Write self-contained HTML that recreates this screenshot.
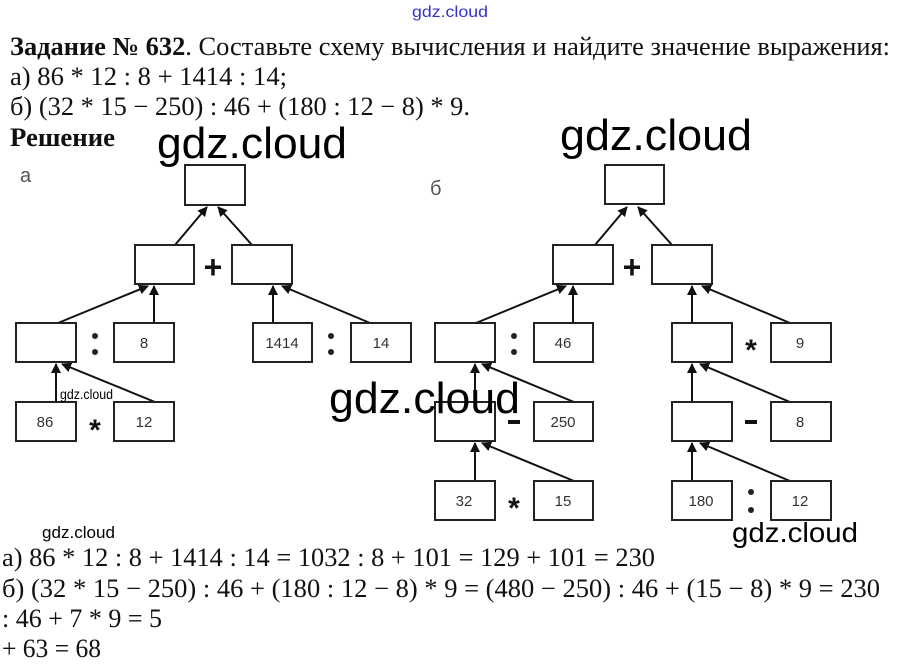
<!DOCTYPE html>
<html><head><meta charset="utf-8"><style>
html,body{margin:0;padding:0;background:#fff;}
svg{display:block;}
.s{font-family:"Liberation Serif","Noto Serif CJK SC",serif;font-size:26px;fill:#111;}
.b{font-weight:bold;}
.g{font-family:"Liberation Sans","Noto Sans CJK SC",sans-serif;fill:#000;}
.n{font-family:"Liberation Sans",sans-serif;font-size:15px;fill:#333;text-anchor:middle;}
.o{font-family:"Liberation Sans",sans-serif;font-weight:bold;fill:#111;text-anchor:middle;}
rect{fill:#fff;stroke:#222;stroke-width:2;}
line{stroke:#111;stroke-width:2;}
circle{fill:#222;}
</style></head><body>
<svg width="900" height="671" viewBox="0 0 900 671" xmlns="http://www.w3.org/2000/svg">
<defs><marker id="a" markerWidth="10" markerHeight="10" refX="9" refY="5" orient="auto" markerUnits="userSpaceOnUse"><path d="M0,0 L10,5 L0,10 z" fill="#111"/></marker></defs>
<text x="412" y="17" class="g" font-size="16" style="fill:#3333cc" textLength="76" lengthAdjust="spacingAndGlyphs">gdz.cloud</text>
<text x="10" y="55" class="s" textLength="880" lengthAdjust="spacingAndGlyphs"><tspan class="b">Задание № 632</tspan>. Составьте схему вычисления и найдите значение выражения:</text>
<text x="10" y="85" class="s" textLength="277" lengthAdjust="spacingAndGlyphs">а) 86 * 12 : 8 + 1414 : 14;</text>
<text x="10" y="115" class="s" textLength="460" lengthAdjust="spacingAndGlyphs">б) (32 * 15 − 250) : 46 + (180 : 12 − 8) * 9.</text>
<text x="10" y="146" class="s b" textLength="105" lengthAdjust="spacingAndGlyphs">Решение</text>
<text x="20" y="182" class="g" font-size="20" style="fill:#555">а</text>
<text x="430" y="195" class="g" font-size="20" style="fill:#555">б</text>
<!-- left diagram -->
<line x1="175" y1="245" x2="207" y2="207" marker-end="url(#a)"/>
<line x1="252" y1="245" x2="218" y2="207" marker-end="url(#a)"/>
<line x1="58" y1="323" x2="148" y2="286" marker-end="url(#a)"/>
<line x1="154" y1="323" x2="154" y2="286" marker-end="url(#a)"/>
<line x1="273" y1="323" x2="273" y2="286" marker-end="url(#a)"/>
<line x1="370" y1="323" x2="282" y2="286" marker-end="url(#a)"/>
<line x1="56" y1="402" x2="56" y2="364" marker-end="url(#a)"/>
<line x1="155" y1="402" x2="62" y2="364" marker-end="url(#a)"/>
<rect x="185" y="165" width="60" height="40"/>
<rect x="135" y="245" width="59" height="39"/><rect x="232" y="245" width="60" height="39"/>
<rect x="16" y="323" width="60" height="39"/><rect x="114" y="323" width="60" height="39"/>
<rect x="253" y="323" width="59" height="39"/><rect x="351" y="323" width="60" height="39"/>
<rect x="16" y="402" width="60" height="39"/><rect x="114" y="402" width="60" height="39"/>
<text x="144" y="348" class="n">8</text><text x="282" y="348" class="n">1414</text><text x="381" y="348" class="n">14</text>
<text x="45" y="427" class="n">86</text><text x="144" y="427" class="n">12</text>
<text x="213" y="278" class="o" font-size="32">+</text>
<circle cx="95" cy="336" r="3"/><circle cx="95" cy="352" r="3"/>
<circle cx="331" cy="336" r="3"/><circle cx="331" cy="352" r="3"/>
<text x="95" y="440" class="o" font-size="30">*</text>
<!-- right diagram -->
<line x1="595" y1="245" x2="627" y2="207" marker-end="url(#a)"/>
<line x1="672" y1="245" x2="638" y2="207" marker-end="url(#a)"/>
<line x1="476" y1="323" x2="566" y2="286" marker-end="url(#a)"/>
<line x1="573" y1="323" x2="573" y2="286" marker-end="url(#a)"/>
<line x1="692" y1="323" x2="692" y2="286" marker-end="url(#a)"/>
<line x1="790" y1="323" x2="702" y2="286" marker-end="url(#a)"/>
<line x1="475" y1="402" x2="475" y2="364" marker-end="url(#a)"/>
<line x1="574" y1="402" x2="482" y2="364" marker-end="url(#a)"/>
<line x1="692" y1="402" x2="692" y2="364" marker-end="url(#a)"/>
<line x1="790" y1="402" x2="700" y2="364" marker-end="url(#a)"/>
<line x1="475" y1="481" x2="475" y2="443" marker-end="url(#a)"/>
<line x1="574" y1="481" x2="482" y2="443" marker-end="url(#a)"/>
<line x1="692" y1="481" x2="692" y2="443" marker-end="url(#a)"/>
<line x1="790" y1="481" x2="700" y2="443" marker-end="url(#a)"/>
<rect x="605" y="165" width="59" height="39"/>
<rect x="553" y="245" width="60" height="39"/><rect x="652" y="245" width="60" height="39"/>
<rect x="435" y="323" width="60" height="39"/><rect x="534" y="323" width="59" height="39"/>
<rect x="672" y="323" width="60" height="39"/><rect x="771" y="323" width="60" height="39"/>
<rect x="435" y="402" width="60" height="39"/><rect x="534" y="402" width="59" height="39"/>
<rect x="672" y="402" width="60" height="39"/><rect x="771" y="402" width="60" height="39"/>
<rect x="435" y="481" width="60" height="39"/><rect x="534" y="481" width="59" height="39"/>
<rect x="672" y="481" width="60" height="39"/><rect x="771" y="481" width="60" height="39"/>
<text x="563" y="348" class="n">46</text><text x="800" y="348" class="n">9</text>
<text x="563" y="427" class="n">250</text><text x="800" y="427" class="n">8</text>
<text x="464" y="506" class="n">32</text><text x="563" y="506" class="n">15</text>
<text x="701" y="506" class="n">180</text><text x="800" y="506" class="n">12</text>
<text x="632" y="278" class="o" font-size="32">+</text>
<circle cx="514" cy="336" r="3"/><circle cx="514" cy="352" r="3"/>
<text x="751" y="360" class="o" font-size="30">*</text>
<rect x="508" y="420" width="12" height="4" style="fill:#111;stroke:none"/>
<rect x="745" y="420" width="12" height="4" style="fill:#111;stroke:none"/>
<text x="514" y="518" class="o" font-size="30">*</text>
<circle cx="751" cy="492" r="3"/><circle cx="751" cy="510" r="3"/>
<!-- watermarks -->
<text x="157" y="158" class="g" font-size="44" textLength="190" lengthAdjust="spacingAndGlyphs">gdz.cloud</text>
<text x="560" y="150" class="g" font-size="44" textLength="192" lengthAdjust="spacingAndGlyphs">gdz.cloud</text>
<text x="329" y="413" class="g" font-size="44" textLength="191" lengthAdjust="spacingAndGlyphs">gdz.cloud</text>
<text x="732" y="542" class="g" font-size="28" textLength="126" lengthAdjust="spacingAndGlyphs">gdz.cloud</text>
<text x="60" y="399" class="g" font-size="14" textLength="53" lengthAdjust="spacingAndGlyphs">gdz.cloud</text>
<text x="42" y="538" class="g" font-size="17" textLength="73" lengthAdjust="spacingAndGlyphs">gdz.cloud</text>
<!-- bottom lines -->
<text x="2" y="566" class="s" textLength="653" lengthAdjust="spacingAndGlyphs">а) 86 * 12 : 8 + 1414 : 14 = 1032 : 8 + 101 = 129 + 101 = 230</text>
<text x="2" y="597" class="s" textLength="878" lengthAdjust="spacingAndGlyphs">б) (32 * 15 − 250) : 46 + (180 : 12 − 8) * 9 = (480 − 250) : 46 + (15 − 8) * 9 = 230</text>
<text x="2" y="627" class="s" textLength="160" lengthAdjust="spacingAndGlyphs">: 46 + 7 * 9 = 5</text>
<text x="2" y="657" class="s" textLength="99" lengthAdjust="spacingAndGlyphs">+ 63 = 68</text>
</svg>
</body></html>
